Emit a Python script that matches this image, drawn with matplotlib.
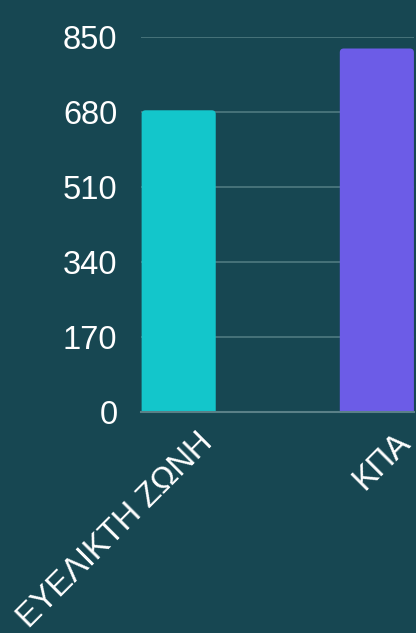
import matplotlib.pyplot as plt
from matplotlib.patches import FancyBboxPatch
from matplotlib.transforms import ScaledTranslation

categories = ["ΕΥΕΛΙΚΤΗ ΖΩΝΗ", "ΚΠΑ"]
values = [684, 824]
bar_colors = ["#13c6cb", "#6c5ce7"]
yticks = [0, 170, 340, 510, 680, 850]

bg = "#174752"
plt.rcParams['font.family'] = ['Liberation Sans', 'DejaVu Sans']

fig = plt.figure(figsize=(4.16, 6.33), dpi=100)
fig.patch.set_facecolor(bg)
ax = fig.add_axes([0.339, 0.349, 0.656, 0.5925])
ax.set_facecolor(bg)

x = list(range(len(categories)))
bars = ax.bar(x, values, width=0.374, color=bar_colors, zorder=3)

# swap the plain rectangles for ones with rounded top corners
for rect, col in zip(bars.patches, bar_colors):
    rect.set_visible(False)
    rounded = FancyBboxPatch((rect.get_x(), -30), rect.get_width(), rect.get_height() + 30,
                             boxstyle="round,pad=0,rounding_size=0.02",
                             mutation_aspect=450, facecolor=col, edgecolor="none",
                             zorder=3)
    ax.add_patch(rounded)

ax.set_xlim(-0.19, 1.187)
ax.set_ylim(0, 850)
ax.set_yticks(yticks)
ax.set_yticklabels([str(v) for v in yticks], fontsize=23.5, color="white")
ax.set_xticks(x)
ax.set_xticklabels(categories, fontsize=23.5, color="white", rotation=45,
                   ha="right", va="baseline", rotation_mode="anchor")
ax.tick_params(axis="y", length=0, pad=17)
ax.tick_params(axis="x", length=0, pad=23)

# labels end a bit to the right of the bar centre
shift = ScaledTranslation(0.35, 0, fig.dpi_scale_trans)
for lbl in ax.get_xticklabels():
    lbl.set_transform(lbl.get_transform() + shift)

ax.grid(axis="y", color="#4f7a80", linewidth=1.2, zorder=0)
for s in ["top", "right", "left"]:
    ax.spines[s].set_visible(False)
ax.spines["bottom"].set_color("#5a8087")
ax.spines["bottom"].set_linewidth(1.5)
ax.spines["bottom"].set_zorder(4)

fig.savefig("out.png", dpi=100, facecolor=bg)
